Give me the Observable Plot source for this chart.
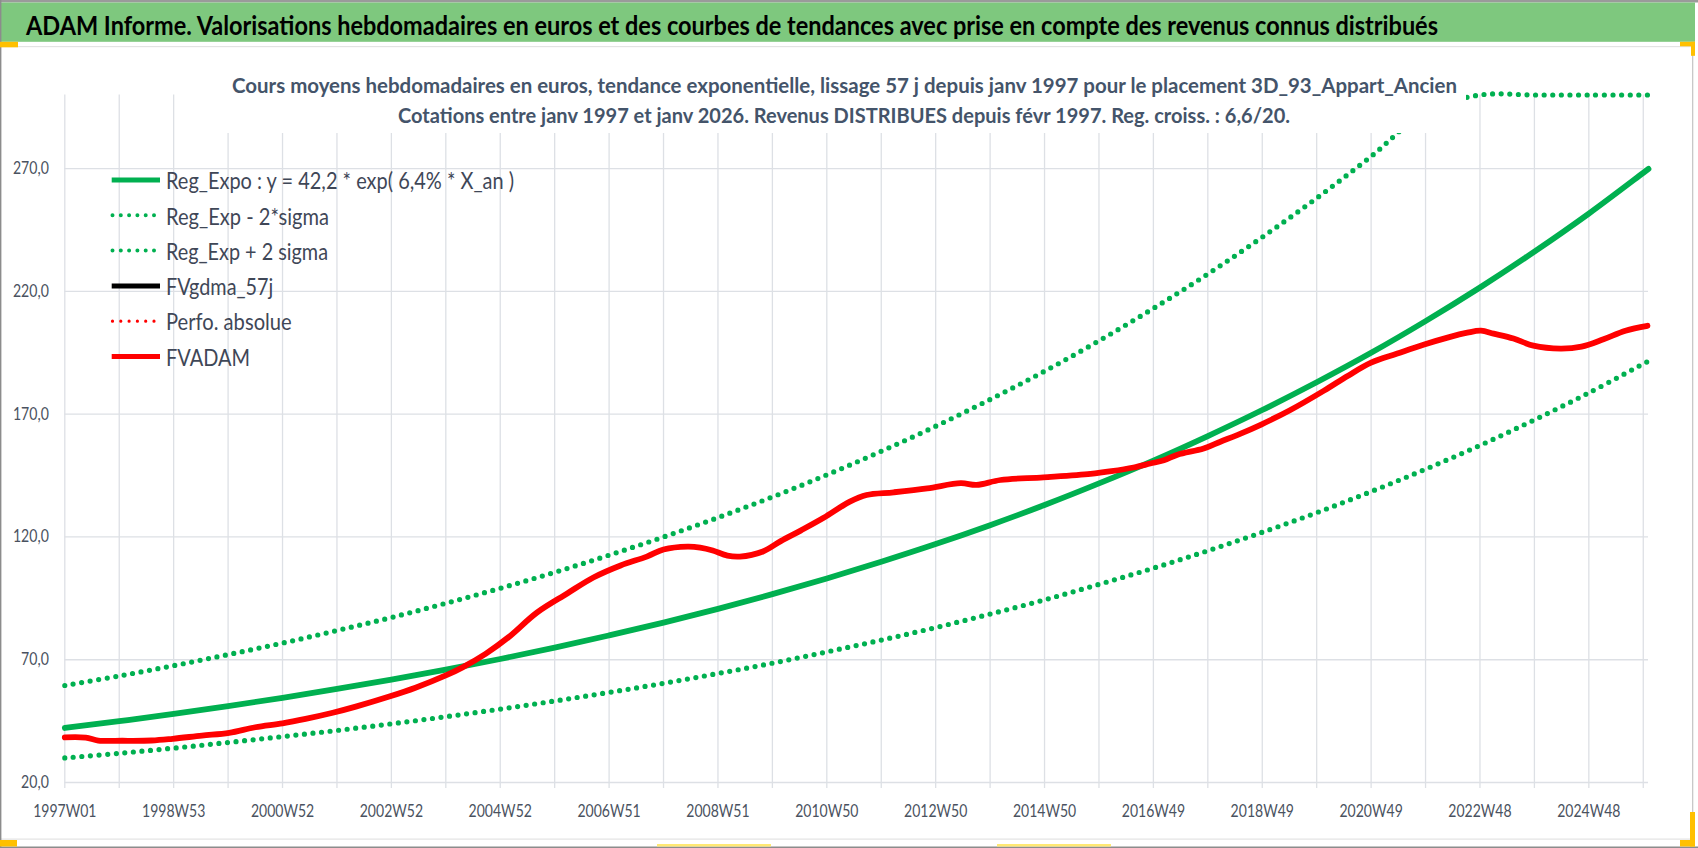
<!DOCTYPE html>
<html><head><meta charset="utf-8">
<script src="https://cdn.jsdelivr.net/npm/d3@7"></script>
<script src="https://cdn.jsdelivr.net/npm/@observablehq/plot@0.6"></script>
<style>
html,body{margin:0;padding:0;background:#fff;}
body{width:1698px;height:848px;overflow:hidden;position:relative;font-family:Lato,"Open Sans",sans-serif;}
#chart{position:absolute;left:0;top:0;}
#overlay{position:absolute;left:0;top:0;}
</style></head><body>
<div id="chart"></div>
<svg id="overlay" width="1698" height="848"></svg>
<script>
// ---------- DATA ----------
// week index since 1997W01
const weeksReg = [0,52,104,156,208,260,312,364,416,468,520,572,624,676,728,780,832,884,936,988,1040,1092,1144,1196,1248,1300,1352,1404,1456,1508,1513];
const regExpo  = [42.2,45.0,47.9,51.1,54.5,58.1,61.9,66.0,70.3,74.9,79.9,85.1,90.7,96.7,103.1,109.9,117.1,124.8,133.0,141.8,151.1,161.1,171.7,183.0,195.0,207.9,221.6,236.2,251.7,268.3,269.9];
const regLow   = [30.0,31.9,34.0,36.3,38.7,41.2,43.9,46.8,49.9,53.2,56.7,60.4,64.4,68.6,73.2,78.0,83.1,88.6,94.4,100.7,107.3,114.4,121.9,129.9,138.5,147.6,157.3,167.7,178.7,190.5,191.6];
const regHigh  = [59.5,63.4,67.6,72.1,76.8,81.9,87.2,93.0,99.1,105.6,112.6,120.0,127.9,136.3,145.3,154.9,165.1,176.0,187.5,199.9,213.1,227.1,242.1,258.0,275.0,293.1,312.4,333.0,354.9,378.3,380.6];

const fvWeeks = [0,20,32,55,83,103,131,157,182,208,230,256,278,310,335,364,380,402,424,451,480,505,531,556,572,595,607,619,633,645,667,684,703,725,750,766,792,824,856,871,894,935,980,1000,1021,1037,1050,1063,1088,1104,1120,1143,1170,1203,1226,1248,1273,1298,1321,1340,1353,1365,1384,1403,1429,1449,1470,1491,1512];
const fvadam  = [38.4,38.3,37.1,37.0,37.1,37.8,39.1,40.2,42.5,44.1,45.9,48.4,50.9,55.0,58.6,63.6,66.9,72.4,79.2,89.2,97.0,103.5,108.4,112.0,114.9,116.1,115.7,114.5,112.4,112.0,114.1,118.3,122.6,127.8,134.4,137.1,138.2,139.8,141.9,141.2,143.2,144.3,145.7,146.8,148.3,149.9,151.2,153.5,156.0,158.8,161.5,165.8,171.5,179.6,185.7,191.0,194.7,198.3,201.2,203.2,204.0,202.8,200.8,197.9,196.7,197.5,200.5,204.0,206.0];

const xTickWeeks  = [0,104,208,312,416,520,624,728,832,936,1040,1144,1248,1352,1456];
const xTickLabels = ["1997W01","1998W53","2000W52","2002W52","2004W52","2006W51","2008W51","2010W50","2012W50","2014W50","2016W49","2018W49","2020W49","2022W48","2024W48"];
const gridWeeks   = [0,52,104,156,208,260,312,364,416,468,520,572,624,676,728,780,832,884,936,988,1040,1092,1144,1196,1248,1300,1352,1404,1456,1508];
const yTicks      = [20,70,120,170,220,270];

const legendLabels = ["Reg_Expo : y = 42,2 * exp( 6,4% *  X_an )","Reg_Exp - 2*sigma","Reg_Exp + 2 sigma","FVgdma_57j","Perfo. absolue","FVADAM"];
const titleText = "ADAM Informe. Valorisations hebdomadaires en euros et des courbes de tendances avec prise en compte des revenus connus distribués";
const subtitle1 = "Cours moyens hebdomadaires en euros, tendance exponentielle, lissage 57 j depuis janv 1997  pour le placement 3D_93_Appart_Ancien";
const subtitle2 = "Cotations entre janv 1997 et janv 2026. Revenus DISTRIBUES depuis févr 1997. Reg. croiss. : 6,6/20.";

// ---------- STYLE ----------
const GREEN = "#00b050", RED = "#ff0000", GRID = "#dde0e5", AXIS_TXT = "#4a5260", FONT = 'Lato, "Open Sans", sans-serif';

const regData = weeksReg.map((w,i)=>({w, reg:regExpo[i], lo:regLow[i], hi:regHigh[i]}));
const fvData  = fvWeeks.map((w,i)=>({w, v:fvadam[i]}));
const labelMap = new Map(xTickWeeks.map((w,i)=>[w,xTickLabels[i]]));

const chart = Plot.plot({
  width:1698, height:848,
  marginLeft:64.3, marginRight:50, marginTop:94.5, marginBottom:66,
  style:{fontFamily:FONT, color:AXIS_TXT, background:"transparent"},
  x:{type:"linear", domain:[0,1513]},
  y:{domain:[20,300], clamp:true},
  marks:[
    Plot.ruleY(yTicks,{stroke:GRID, strokeWidth:1.3}),
    Plot.ruleX(gridWeeks,{stroke:GRID, strokeWidth:1.3, insetBottom:-6}),
    Plot.axisY(yTicks,{tickSize:0, tickPadding:16, fontSize:16.8, tickFormat:d=>d.toFixed(1).replace(".",","), label:null}),
    Plot.axisX(xTickWeeks,{tickSize:0, tickPadding:22, fontSize:17, tickFormat:d=>labelMap.get(d), label:null}),
    Plot.line(regData,{x:"w", y:"reg", stroke:GREEN, strokeWidth:5.8, curve:"catmull-rom"}),
    Plot.line(regData,{x:"w", y:"lo", stroke:GREEN, strokeWidth:5.2, strokeDasharray:"0 8.6", strokeLinecap:"round", curve:"catmull-rom"}),
    Plot.line(regData,{x:"w", y:"hi", stroke:GREEN, strokeWidth:5.2, strokeDasharray:"0 8.6", strokeLinecap:"round", curve:"catmull-rom"}),
    Plot.line(fvData,{x:"w", y:"v", stroke:"#000", strokeWidth:4, curve:"catmull-rom"}),
    Plot.line(fvData,{x:"w", y:"v", stroke:RED, strokeWidth:5.8, curve:"catmull-rom"})
  ]
});
document.getElementById("chart").append(chart);

function squeeze(root, sel, refText, target){
  const nodes=[...root.querySelectorAll(sel)];
  const ref=nodes.find(n=>n.textContent===refText);
  if(!ref) return;
  const k=target/ref.getComputedTextLength();
  nodes.forEach(n=>{n.setAttribute("textLength",n.getComputedTextLength()*k);n.setAttribute("lengthAdjust","spacingAndGlyphs");});
}
squeeze(chart,'g[aria-label="x-axis tick label"] text',"1997W01",63.3);
squeeze(chart,'g[aria-label="y-axis tick label"] text',"20,0",27.7);

// ---------- OVERLAY (frame, titles, legend) ----------
const ov = d3.select("#overlay");
function rect(x,y,w,h,fill){ov.append("rect").attr("x",x).attr("y",y).attr("width",w).attr("height",h).attr("fill",fill);}
function text(x,y,str,o){
  const t=ov.append("text").attr("x",x).attr("y",y).text(str)
    .attr("font-family",FONT).attr("font-size",o.size).attr("font-weight",o.weight||400)
    .attr("fill",o.fill).attr("text-anchor",o.anchor||"start");
  if(o.width) t.attr("textLength",o.width).attr("lengthAdjust","spacingAndGlyphs");
  return t;
}
// frame
rect(0,0,1698,2.5,"#9a9a9a");
rect(0,2.5,1695,39.3,"#7ec87e");
rect(0,46,1693,1.2,"#e3e3e3");
rect(1692,46,1.3,794,"#c8c8c8");
rect(0,838.5,1693,1.2,"#e3e3e3");
rect(0,0,1.4,848,"#8c8c8c");
rect(0,846.5,1698,1.5,"#8c8c8c");
// selection marks
rect(0,41.8,18,5.5,"#ffc000");
rect(0,840,17,6.5,"#ffc000");
rect(1680,41.8,15,4.5,"#ffc000");
rect(1691,41.8,4,14,"#ffc000");
rect(1690,812,5,34.5,"#ffc000");
rect(1680,840,15,6.5,"#ffc000");
rect(657,844,114,2.5,"#ffe873");
rect(997,844,114,2.5,"#ffe873");
// title
text(26,34.8,titleText,{size:26.5,weight:700,fill:"#000",width:1412});
// subtitle box
rect(222,60,1244,73,"#ffffff");
text(232,93,subtitle1,{size:21.5,weight:700,fill:"#44546a",width:1225});
text(398,123,subtitle2,{size:21.5,weight:700,fill:"#44546a",width:892});
// legend
const legY = legendLabels.map((_,i)=>180+35.3*i);
const legStyles = [
  {stroke:GREEN,w:5},
  {stroke:GREEN,w:4,dash:"0 8.3"},
  {stroke:GREEN,w:4,dash:"0 8.3"},
  {stroke:"#000",w:5},
  {stroke:RED,w:3.2,dash:"0 8.3"},
  {stroke:RED,w:5}
];
legStyles.forEach((s,i)=>{
  const l=ov.append("line").attr("x1",s.dash?112.5:111.7).attr("x2",160).attr("y1",legY[i]).attr("y2",legY[i])
    .attr("stroke",s.stroke).attr("stroke-width",s.w);
  if(s.dash) l.attr("stroke-dasharray",s.dash).attr("stroke-linecap","round");
});
const legTargets=[null,163,162,107.3,125.7,null];
const legNodes=legendLabels.map((lab,i)=>text(166,legY[i]+9.2,lab,{size:22.5,fill:"#3f4757"}).node());
let ks=[];legNodes.forEach((n,i)=>{if(legTargets[i]) ks.push(legTargets[i]/n.getComputedTextLength());});
const kLeg=ks.reduce((a,b)=>a+b,0)/ks.length;
legNodes.forEach((n,i)=>{const w=legTargets[i]||n.getComputedTextLength()*kLeg;n.setAttribute("textLength",w);n.setAttribute("lengthAdjust","spacingAndGlyphs");});
</script>
</body></html>
